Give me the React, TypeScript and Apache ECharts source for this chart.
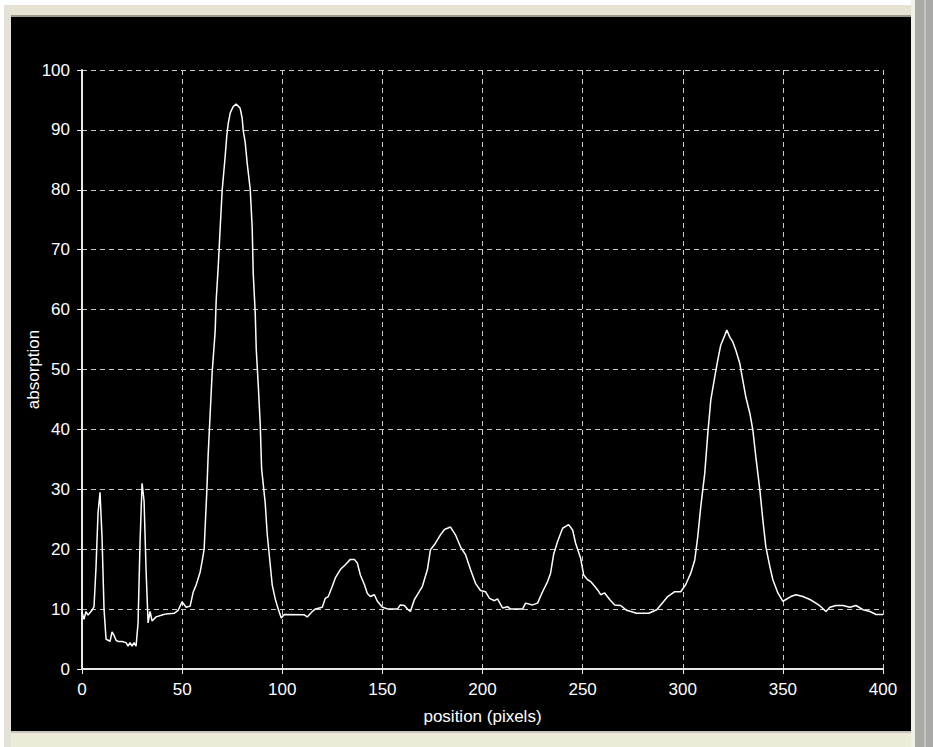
import React, { useEffect, useRef } from "react";
import * as echarts from "echarts";

const positions = [
  0, 1, 2, 3, 4, 5, 6, 7, 8, 9, 10, 11, 12, 13, 14, 15, 16, 17, 18, 20, 22, 23, 24, 25, 26, 27,
  28, 29, 30, 31, 32, 33, 34, 35, 37, 40, 42, 46, 48, 50, 52, 54, 55.5, 57, 59, 60, 61, 61.5, 62.3,
  63, 64, 65, 66.5, 67, 68, 69, 70, 71.5, 72.3, 73, 74, 75.5, 77, 79, 80, 80.5, 81.5, 82.5, 84, 85,
  85.5, 86.5, 87, 88, 89, 89.7, 91.5, 92.5, 94, 95, 96.5, 98, 99.5, 101, 111, 112.5, 115, 116.5,
  120, 121.5, 123, 125, 126.5, 129, 131.5, 134, 136, 137.5, 139, 141, 142.5, 144, 146, 147.5, 150,
  153, 157.5, 159, 161, 162.5, 164, 166, 167.5, 170, 172.5, 174, 176.5, 179, 181, 184, 186.5, 189,
  191.5, 194, 196.5, 199, 201.5, 203.5, 206, 207.5, 210, 212.5, 214, 220, 221.5, 225, 227.5, 230,
  232.5, 234, 235.5, 237.5, 240, 243, 245, 246.5, 249, 250.5, 252.5, 254, 256, 257.5, 259, 261,
  263.5, 266, 269, 272, 277, 283, 287, 289, 292.5, 296, 299, 301.5, 304, 306, 307.5, 309, 311,
  312.5, 314, 316, 317.5, 319, 321, 322, 323.5, 325, 326.5, 328.5, 330, 331.5, 333.5, 335, 336.5,
  338.5, 340, 341.5, 343.5, 345, 347.5, 350, 351.5, 354, 356.5, 360, 363.5, 366.5, 369, 371.5,
  373.5, 376.5, 380, 383.5, 386.5, 390, 393.5, 396.5, 400,
];

const absorption = [
  9.5, 8.3, 9.6, 9.0, 9.4, 9.8, 10.4, 17, 26, 29.5, 22, 10, 5, 4.8, 4.6, 6.2, 5.6, 4.8, 4.6, 4.6,
  4.4, 3.8, 4.4, 3.8, 4.4, 3.8, 7.7, 21.3, 31, 28, 16.5, 7.7, 9.6, 8, 8.7, 9.0, 9.2, 9.3, 9.8, 11.2,
  10.3, 10.5, 12.8, 14, 16.2, 18, 20, 23.7, 29.4, 35.7, 42.6, 49.5, 56.4, 61.5, 67, 73.6, 79.9,
  85.6, 89, 91, 92.8, 93.9, 94.3, 93.6, 91.9, 89.9, 87.9, 84.4, 80.1, 73.6, 66.1, 59.5, 53.5, 47.5,
  40.9, 33.4, 27.7, 22.5, 17.4, 14, 11.7, 10, 8.5, 9.1, 9.05, 8.7, 9.6, 10, 10.3, 11.8, 12.1, 13.8,
  15.2, 16.6, 17.4, 18.3, 18.3, 17.7, 15.7, 14.1, 12.6, 12.1, 12.4, 11.3, 10.3, 10, 10, 10.7, 10.6,
  10, 9.6, 11.6, 12.4, 13.8, 16.6, 19.9, 21, 22.4, 23.3, 23.7, 22.4, 20.4, 19.1, 16.6, 14.3, 13.1,
  12.9, 11.8, 11.4, 11.7, 10.2, 10.4, 10, 10, 11, 10.7, 11, 12.9, 14.6, 16, 19.1, 21.3, 23.5, 24.1,
  23.2, 21, 18.5, 15.7, 14.9, 14.6, 13.8, 13.2, 12.4, 12.7, 11.6, 10.7, 10.6, 9.8, 9.3, 9.3, 9.9,
  10.7, 12.1, 12.9, 12.9, 14.1, 16, 18.2, 22.1, 27.1, 32.7, 39.3, 44.9, 48.8, 51.6, 54.1, 55.7,
  56.6, 55.4, 54.6, 53.2, 51, 48.2, 45.4, 42.7, 39.9, 35.4, 29.9, 24.9, 20.4, 17.1, 14.9, 12.7,
  11.3, 11.6, 12.1, 12.4, 12.1, 11.6, 11, 10.4, 9.6, 10.3, 10.6, 10.6, 10.3, 10.6, 9.9, 9.6, 9.1,
  9.1,
];

const xTicks = { min: 0, max: 400, interval: 50 };
const yTicks = { min: 0, max: 100, interval: 10 };

const FONT = "'Liberation Sans', Arial, sans-serif";

export default function App() {
  const ref = useRef<HTMLDivElement>(null);

  useEffect(() => {
    if (!ref.current) return;
    const chart = echarts.init(ref.current, undefined, { renderer: "svg" });
    const data = positions.map((p, i) => [p, absorption[i]]);

    chart.setOption({
      animation: false,
      backgroundColor: "#ece9d8",
      graphic: [
        { type: "rect", z: -10, shape: { x: 0, y: 0, width: 4, height: 747 }, style: { fill: "#ffffff" } },
        { type: "rect", z: -10, shape: { x: 4, y: 0, width: 7, height: 747 }, style: { fill: "#e4e2d6" } },
        { type: "rect", z: -10, shape: { x: 0, y: 0, width: 933, height: 5 }, style: { fill: "#ffffff" } },
        { type: "rect", z: -10, shape: { x: 11, y: 5, width: 900, height: 11 }, style: { fill: "#e6e3d3" } },
        { type: "rect", z: -10, shape: { x: 11, y: 15, width: 900, height: 2 }, style: { fill: "#9c9a8e" } },
        { type: "rect", z: -10, shape: { x: 911, y: 0, width: 4, height: 747 }, style: { fill: "#f2f0e6" } },
        { type: "rect", z: -10, shape: { x: 915, y: 0, width: 18, height: 747 }, style: { fill: "#a9a9a6" } },
        { type: "rect", z: -10, shape: { x: 924, y: 0, width: 2, height: 747 }, style: { fill: "#c4c4c0" } },
        { type: "rect", z: -10, shape: { x: 11, y: 731, width: 900, height: 2 }, style: { fill: "#c8c6bc" } },
        { type: "rect", z: -10, shape: { x: 11, y: 733, width: 900, height: 14 }, style: { fill: "#ecead9" } },
        { type: "rect", z: -9, shape: { x: 11, y: 17, width: 900, height: 714 }, style: { fill: "#000000" } },
      ],
      grid: { left: 82, right: 50, top: 70, bottom: 78, containLabel: false },
      xAxis: {
        type: "value",
        min: xTicks.min,
        max: xTicks.max,
        interval: xTicks.interval,
        name: "position (pixels)",
        nameLocation: "middle",
        nameGap: 39,
        nameMoveOverlap: false,
        nameTextStyle: { color: "#ffffff", fontFamily: FONT, fontSize: 17 },
        axisLine: { show: true, onZero: false, lineStyle: { color: "#e8e8e8", width: 2 } },
        axisTick: { show: true, length: 5, lineStyle: { color: "#e8e8e8", width: 1 } },
        axisLabel: { color: "#ffffff", fontFamily: FONT, fontSize: 17, margin: 12 },
        splitLine: { show: true, lineStyle: { color: "#c8c8c8", width: 1, type: [5, 4] } },
      },
      yAxis: {
        type: "value",
        min: yTicks.min,
        max: yTicks.max,
        interval: yTicks.interval,
        name: "absorption",
        nameLocation: "middle",
        nameGap: 40,
        nameMoveOverlap: false,
        nameTextStyle: { color: "#ffffff", fontFamily: FONT, fontSize: 17 },
        axisLine: { show: true, lineStyle: { color: "#e8e8e8", width: 2 } },
        axisTick: { show: true, length: 5, lineStyle: { color: "#e8e8e8", width: 1 } },
        axisLabel: { color: "#ffffff", fontFamily: FONT, fontSize: 17, margin: 12 },
        splitLine: { show: true, lineStyle: { color: "#c8c8c8", width: 1, type: [5, 4] } },
      },
      series: [
        {
          type: "line",
          data,
          showSymbol: false,
          symbol: "none",
          lineStyle: { color: "#ffffff", width: 1.5 },
          z: 5,
        },
      ],
    });

    return () => chart.dispose();
  }, []);

  return (
    <div
      ref={ref}
      style={{ position: "fixed", left: 0, top: 0, width: 933, height: 747 }}
    />
  );
}
